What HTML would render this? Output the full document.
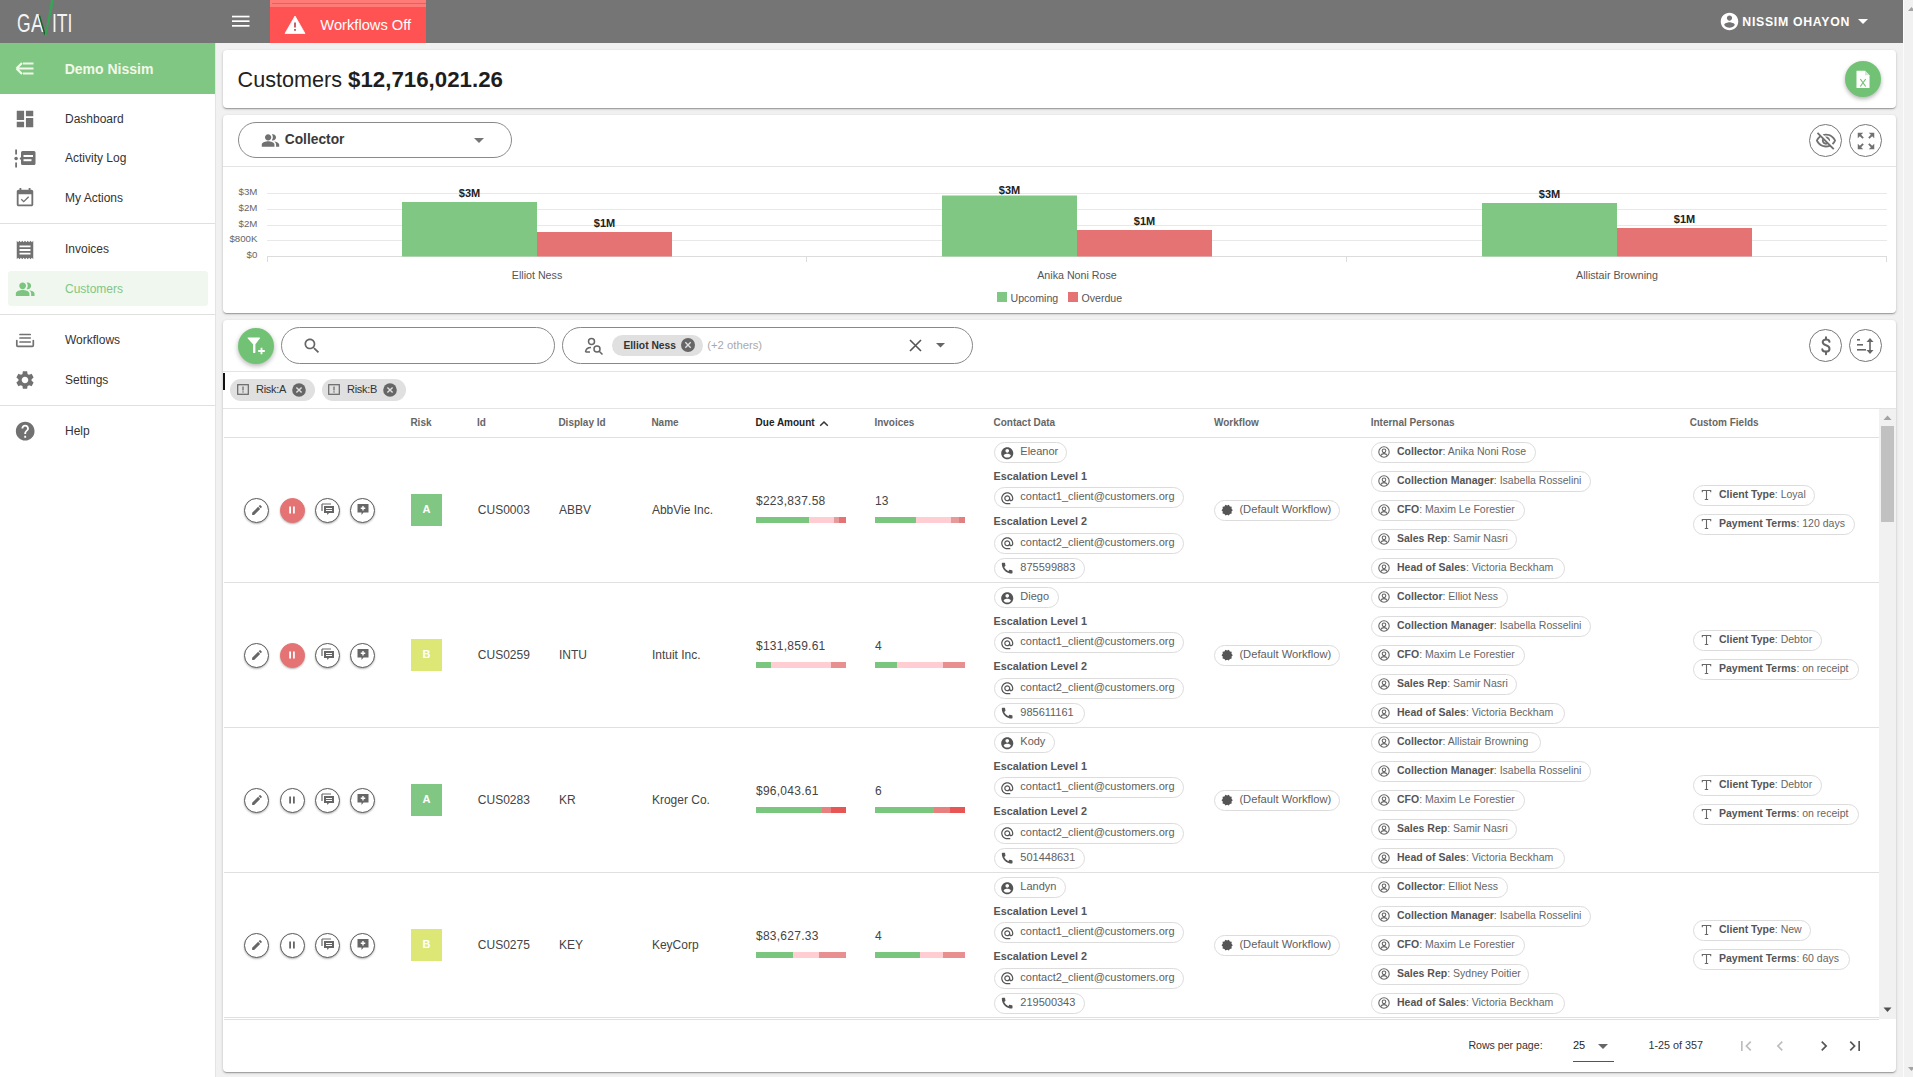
<!DOCTYPE html>
<html><head><meta charset="utf-8"><title>Customers</title>
<style>
*{box-sizing:border-box;margin:0;padding:0}
html,body{width:1913px;height:1077px;overflow:hidden;background:#f1f1f1;font-family:"Liberation Sans",Arial,sans-serif;color:#333}
.a{position:absolute}
.t{position:absolute;white-space:nowrap;line-height:1}
.card{position:absolute;left:223px;width:1673px;background:#fff;border-radius:4px;box-shadow:0 1px 3px rgba(0,0,0,.2),0 1px 1px rgba(0,0,0,.14),0 2px 1px -1px rgba(0,0,0,.12)}
.ic{fill:#717171}
.hd{position:absolute;font-size:10px;color:#666;font-weight:bold;white-space:nowrap;line-height:1}
.hl{position:absolute;left:224px;width:1655px;height:1px;background:#e0e0e0}
.rb{position:absolute;width:25px;height:25px;border-radius:50%;border:1px solid #5a5a5a;background:#fff;box-shadow:0 1px 2px rgba(0,0,0,.3)}
.rb svg{position:absolute;left:50%;top:50%;transform:translate(-50%,-50%)}
.rb.red{background:#e57373;border-color:#e57373}
.risk{position:absolute;width:31px;height:32px;color:#fff;font-weight:bold;font-size:11px;text-align:center;line-height:30px}
.bar{position:absolute;height:6px;display:flex}
.bar i{display:block;height:6px}
.chip{position:absolute;height:21px;border:1px solid #dcdcdc;border-radius:11px;background:#fff;font-size:10.5px;color:#666;white-space:nowrap;line-height:14px;padding-top:1px;padding-left:25px;overflow:hidden}
.chip svg{position:absolute;left:6px;top:3px}
.chip.c{font-size:11px;padding-left:25.3px;color:#606060}
.chip.w{font-size:11.2px;padding-left:24.4px;color:#606060}
.chip b{color:#555}
</style></head><body>
<div class="a" style="left:0;top:0;width:1903px;height:43px;background:#757575"></div>
<div class="t" style="left:17.4px;top:11px;font-size:25px;color:#f4f4f4;transform:scaleX(0.7);transform-origin:0 0">G</div>
<div class="t" style="left:30.8px;top:11px;font-size:25px;color:#f4f4f4;transform:scaleX(0.76);transform-origin:0 0">A</div>
<div class="t" style="left:52.2px;top:11px;font-size:25px;color:#f4f4f4;transform:scaleX(.7);transform-origin:0 0">ITI</div>
<svg class="a" style="left:38px;top:0" width="17" height="38" viewBox="0 0 17 38"><path d="M0.6 15.6 L2.2 15.6 L7.3 33 L6.6 36 Z" fill="#17632e"/><path d="M6.6 36 L13.2 0 L16 0 L8.2 36 Z" fill="#35a556"/></svg>
<svg class="a" style="left:232px;top:15px" width="18" height="13" viewBox="0 0 18 13"><rect x="0" y="0.7" width="17.5" height="1.7" fill="#fff"/><rect x="0" y="5.3" width="17.5" height="1.7" fill="#fff"/><rect x="0" y="10" width="17.5" height="1.7" fill="#fff"/></svg>
<div class="a" style="left:270px;top:0;width:156px;height:43px;background:#ff5252"></div>
<div class="a" style="left:270px;top:0;width:156px;height:7px;background:#ff7b78"></div>
<div class="a" style="left:272px;top:3px;width:154px;height:1px;background:#e85f5f"></div>
<svg class="a" style="left:284px;top:15px" width="22" height="19" viewBox="0 0 22 19"><path d="M11 1 L21 18.5 L1 18.5 Z" fill="#fff" stroke="#fff" stroke-width="0.8" stroke-linejoin="round"/><rect x="10.1" y="7.5" width="1.8" height="5" fill="#c85050"/><rect x="10.1" y="14" width="1.8" height="1.8" fill="#c85050"/></svg>
<div class="t" style="left:320.3px;top:17.86px;font-size:14.7px;color:#fff">Workflows Off</div>
<svg class="a" style="left:1719px;top:11px" width="21" height="21" viewBox="0 0 24 24"><path fill="#fff" d="M12 2C6.48 2 2 6.48 2 12s4.48 10 10 10 10-4.48 10-10S17.52 2 12 2zm0 3c1.66 0 3 1.34 3 3s-1.34 3-3 3-3-1.34-3-3 1.34-3 3-3zm0 14.2c-2.5 0-4.71-1.28-6-3.22.03-1.99 4-3.08 6-3.08 1.99 0 5.97 1.09 6 3.08-1.29 1.94-3.5 3.22-6 3.22z"/></svg>
<div class="t" style="left:1742.3px;top:16.29px;font-size:12.3px;color:#fff;font-weight:bold;letter-spacing:.7px">NISSIM OHAYON</div>
<svg class="a" style="left:1858px;top:19px" width="10" height="5" viewBox="0 0 10 5"><path d="M0 0 L10 0 L5 5 Z" fill="#fff"/></svg>
<div class="a" style="left:1903px;top:0;width:10px;height:1077px;background:#f1f1f1;border-left:1px solid #fbfbfb"></div>
<svg class="a" style="left:1908px;top:6.5px" width="7" height="5" viewBox="0 0 7 5"><path d="M3.5 0 L7 4 L0 4 Z" fill="#a3a3a3"/></svg>
<svg class="a" style="left:1908px;top:1067px" width="7" height="5" viewBox="0 0 7 5"><path d="M0 0 L7 0 L3.5 4 Z" fill="#a3a3a3"/></svg>
<div class="a" style="left:0;top:43px;width:216px;height:1034px;background:#fff;border-right:1px solid #e4e4e4"></div>
<div class="a" style="left:0;top:43px;width:215px;height:51px;background:#81c784"></div>
<svg class="a" style="left:15px;top:60px" width="20" height="17" viewBox="0 0 20 17"><path d="M1.5 8.5 L7 3 M1.5 8.5 L7 14 M1.5 8.5 H18.5 M8 3.5 H18.5 M8 13.5 H18.5" stroke="#f1f8e9" stroke-width="2.2" fill="none"/></svg>
<div class="t" style="left:64.7px;top:62.15px;font-size:14px;color:#f1f8e9;font-weight:bold">Demo Nissim</div>
<svg class="a" style="left:13.7px;top:107.5px" width="22" height="22" viewBox="0 0 24 24"><path fill="#717171" d="M3 13h8V3H3v10zm0 8h8v-6H3v6zm10 0h8V11h-8v10zm0-18v6h8V3h-8z"/></svg>
<div class="t" style="left:65px;top:112.84px;font-size:12px;color:#333">Dashboard</div>
<svg class="a" style="left:14px;top:149px" width="23" height="20" viewBox="0 0 23 20"><rect x="1.2" y="0.5" width="1.8" height="5" class="ic"/><circle cx="2.1" cy="9.5" r="1.8" class="ic"/><rect x="1.2" y="13.5" width="1.8" height="5" class="ic"/><path class="ic" d="M7 3.5 Q7 2 8.5 2 H20 Q21.5 2 21.5 3.5 V14.5 Q21.5 16 20 16 H8.5 Q7 16 7 14.5 V11 L5.5 9.5 L7 8 Z"/><rect x="9.5" y="6" width="9.5" height="2" fill="#fff"/><rect x="9.5" y="10.2" width="8" height="2" fill="#fff"/></svg>
<div class="t" style="left:65px;top:151.84px;font-size:12px;color:#333">Activity Log</div>
<svg class="a" style="left:13.5px;top:186.5px" width="22" height="22" viewBox="0 0 24 24"><path fill="#717171" d="M16.53 11.06L15.47 10l-4.88 4.88-2.12-2.12-1.06 1.06L10.59 17l5.94-5.94zM19 3h-1V1h-2v2H8V1H6v2H5c-1.11 0-1.99.9-1.99 2L3 19c0 1.1.89 2 2 2h14c1.1 0 2-.9 2-2V5c0-1.1-.9-2-2-2zm0 16H5V8h14v11z"/></svg>
<div class="t" style="left:65px;top:191.54px;font-size:12px;color:#333">My Actions</div>
<div class="a" style="left:0;top:223px;width:215px;height:1px;background:#e0e0e0"></div>
<svg class="a" style="left:14px;top:238.5px" width="22" height="22" viewBox="0 0 24 24"><path fill="#717171" d="M18 17H6v-2h12v2zm0-4H6v-2h12v2zm0-4H6V7h12v2zM3 22l1.5-1.5L6 22l1.5-1.5L9 22l1.5-1.5L12 22l1.5-1.5L15 22l1.5-1.5L18 22l1.5-1.5L21 22V2l-1.5 1.5L18 2l-1.5 1.5L15 2l-1.5 1.5L12 2l-1.5 1.5L9 2 7.5 3.5 6 2 4.5 3.5 3 2v20z"/></svg>
<div class="t" style="left:65px;top:243.24px;font-size:12px;color:#333">Invoices</div>
<div class="a" style="left:8px;top:271px;width:200px;height:35px;background:#eff7ef;border-radius:3px"></div>
<svg class="a" style="left:15px;top:278.8px" width="20.4" height="20.4" viewBox="0 0 24 24"><path fill="#7cc47f" d="M16.67 13.13C18.04 14.06 19 15.32 19 17v3h4v-3c0-2.18-3.57-3.47-6.33-3.87zM9 12c2.21 0 4-1.79 4-4S11.21 4 9 4 5 5.79 5 8s1.79 4 4 4zm6 0c2.21 0 4-1.79 4-4s-1.79-4-4-4c-.47 0-.91.1-1.33.24C14.5 5.27 15 6.58 15 8s-.5 2.73-1.33 3.76c.42.14.86.24 1.33.24zm-6 1c-2.67 0-8 1.34-8 4v3h16v-3c0-2.66-5.33-4-8-4z"/></svg>
<div class="t" style="left:65px;top:283.24px;font-size:12px;color:#81c784">Customers</div>
<div class="a" style="left:0;top:314px;width:215px;height:1px;background:#e0e0e0"></div>
<svg class="a" style="left:15px;top:332px" width="20" height="16" viewBox="0 0 20 16"><g stroke="#717171" stroke-width="1.7" fill="none" stroke-linecap="round"><path d="M5 2.5 H15.2 M5 6 H15.2 M5 10 H15.2"/><path d="M1.8 8.5 V13.3 Q1.8 14.3 2.8 14.3 H17.3 Q18.3 14.3 18.3 13.3 V8.5"/></g></svg>
<div class="t" style="left:65px;top:334.34px;font-size:12px;color:#333">Workflows</div>
<svg class="a" style="left:13.8px;top:368.6px" width="22" height="22" viewBox="0 0 24 24"><path fill="#717171" d="M19.14 12.94c.04-.3.06-.61.06-.94 0-.32-.02-.64-.07-.94l2.03-1.58c.18-.14.23-.41.12-.61l-1.92-3.32c-.12-.22-.37-.29-.59-.22l-2.39.96c-.5-.38-1.03-.7-1.62-.94l-.36-2.54c-.04-.24-.24-.41-.48-.41h-3.84c-.24 0-.43.17-.47.41l-.36 2.54c-.59.24-1.13.57-1.62.94l-2.39-.96c-.22-.08-.47 0-.59.22L2.74 8.87c-.12.21-.08.47.12.61l2.03 1.58c-.05.3-.09.63-.09.94s.02.64.07.94l-2.03 1.58c-.18.14-.23.41-.12.61l1.92 3.32c.12.22.37.29.59.22l2.39-.96c.5.38 1.03.7 1.62.94l.36 2.54c.05.24.24.41.48.41h3.84c.24 0 .44-.17.47-.41l.36-2.54c.59-.24 1.13-.56 1.62-.94l2.39.96c.22.08.47 0 .59-.22l1.92-3.32c.12-.22.07-.47-.12-.61l-2.01-1.58zM12 15.6c-1.98 0-3.6-1.62-3.6-3.6s1.62-3.6 3.6-3.6 3.6 1.62 3.6 3.6-1.62 3.6-3.6 3.6z"/></svg>
<div class="t" style="left:65px;top:374.34px;font-size:12px;color:#333">Settings</div>
<div class="a" style="left:0;top:405px;width:215px;height:1px;background:#e0e0e0"></div>
<svg class="a" style="left:13.8px;top:420.2px" width="22.4" height="22.4" viewBox="0 0 24 24"><path fill="#717171" d="M12 2C6.48 2 2 6.48 2 12s4.48 10 10 10 10-4.48 10-10S17.52 2 12 2zm1 17h-2v-2h2v2zm2.07-7.75l-.9.92C13.45 12.9 13 13.5 13 15h-2v-.5c0-1.1.45-2.1 1.17-2.83l1.24-1.26c.37-.36.59-.86.59-1.41 0-1.1-.9-2-2-2s-2 .9-2 2H8c0-2.21 1.79-4 4-4s4 1.79 4 4c0 .88-.36 1.68-.93 2.25z"/></svg>
<div class="t" style="left:65px;top:425.24px;font-size:12px;color:#333">Help</div>
<div class="card" style="top:50px;height:58px"></div>
<div class="t" style="left:237.6px;top:68.92px;font-size:21.6px;color:#222">Customers <b style="font-size:22.3px;color:#1e1e1e">$12,716,021.26</b></div>
<div class="a" style="left:1845px;top:61px;width:36px;height:36px;border-radius:50%;background:#72c275;box-shadow:0 2px 4px rgba(0,0,0,.3)"><svg class="a" style="left:10px;top:9px" width="16" height="19" viewBox="0 0 16 19"><path d="M1.5 0.8 H10 L14.5 5.3 V18 H1.5 Z" fill="#fff"/><path d="M10 0.8 V5.3 H14.5" fill="#cfe9cf"/><path d="M5.3 9 L10.7 16.5 M10.7 9 L5.3 16.5" stroke="#72c275" stroke-width="1.2"/></svg></div>
<div class="card" style="top:115px;height:198px"></div>
<div class="a" style="left:238px;top:122px;width:274px;height:36px;border:1px solid #8a8a8a;border-radius:18px"></div>
<svg class="a" style="left:260.5px;top:131px" width="19" height="19" viewBox="0 0 24 24"><path fill="#717171" d="M16.67 13.13C18.04 14.06 19 15.32 19 17v3h4v-3c0-2.18-3.57-3.47-6.33-3.87zM9 12c2.21 0 4-1.79 4-4S11.21 4 9 4 5 5.79 5 8s1.79 4 4 4zm6 0c2.21 0 4-1.79 4-4s-1.79-4-4-4c-.47 0-.91.1-1.33.24C14.5 5.27 15 6.58 15 8s-.5 2.73-1.33 3.76c.42.14.86.24 1.33.24zm-6 1c-2.67 0-8 1.34-8 4v3h16v-3c0-2.66-5.33-4-8-4z"/></svg>
<div class="t" style="left:284.7px;top:133.02px;font-size:13.8px;color:#3a3a3a;font-weight:bold">Collector</div>
<svg class="a" style="left:474px;top:138px" width="10" height="5" viewBox="0 0 10 5"><path d="M0 0 L10 0 L5 5 Z" fill="#757575"/></svg>
<div class="a" style="left:223px;top:166px;width:1673px;height:1px;background:#e4e4e4"></div>
<div class="a" style="left:1809px;top:124px;width:33px;height:33px;border:1px solid #777;border-radius:50%"><svg class="a" style="left:4.5px;top:4.5px" width="22" height="22" viewBox="0 0 24 24"><path fill="#717171" d="M12 6c3.79 0 7.17 2.13 8.82 5.5-.59 1.22-1.42 2.27-2.41 3.12l1.41 1.41c1.39-1.23 2.49-2.77 3.18-4.53C21.27 7.11 17 4 12 4c-1.27 0-2.49.2-3.64.57l1.65 1.65C10.66 6.09 11.32 6 12 6zm-1.07 1.14L13 9.21c.57.25 1.03.71 1.28 1.28l2.07 2.07c.08-.34.14-.7.14-1.07C16.5 9.01 14.48 7 12 7c-.37 0-.72.05-1.07.14zM2.01 3.87l2.68 2.68C3.06 7.83 1.77 9.53 1 11.5 2.73 15.89 7 19 12 19c1.52 0 2.98-.29 4.32-.82l3.42 3.42 1.41-1.41L3.42 2.45 2.01 3.87zm7.5 7.5l2.61 2.61c-.04.01-.08.02-.12.02-1.38 0-2.5-1.12-2.5-2.5 0-.05.01-.08.01-.13zm-3.4-3.4l1.75 1.75c-.23.55-.36 1.15-.36 1.78 0 2.48 2.02 4.5 4.5 4.5.63 0 1.23-.13 1.77-.36l.98.98c-.88.24-1.8.38-2.75.38-3.79 0-7.17-2.13-8.82-5.5.7-1.43 1.72-2.61 2.93-3.53z"/></svg></div>
<div class="a" style="left:1849px;top:124px;width:33px;height:33px;border:1px solid #777;border-radius:50%"><svg class="a" style="left:4.5px;top:4.5px" width="22" height="22" viewBox="0 0 24 24"><path fill="#717171" d="M15 3l2.3 2.3-2.89 2.87 1.42 1.42L18.7 6.7 21 9V3zM3 9l2.3-2.3 2.87 2.89 1.42-1.42L6.7 5.3 9 3H3zm6 12l-2.3-2.3 2.89-2.87-1.42-1.42L5.3 17.3 3 15v6zm12-6l-2.3 2.3-2.87-2.89-1.42 1.42 2.89 2.87L15 21h6z"/></svg></div>
<svg class="a" style="left:0;top:0" width="1913" height="320" viewBox="0 0 1913 320" font-family="Liberation Sans, Arial, sans-serif"><g stroke="#e8e8e8" stroke-width="1"><line x1="267" y1="193.5" x2="1887" y2="193.5"/><line x1="267" y1="209.5" x2="1887" y2="209.5"/><line x1="267" y1="225.5" x2="1887" y2="225.5"/><line x1="267" y1="240.5" x2="1887" y2="240.5"/></g><line x1="267" y1="256.5" x2="1887" y2="256.5" stroke="#dcdcdc"/><g stroke="#dcdcdc"><line x1="267.5" y1="257" x2="267.5" y2="262"/><line x1="806.5" y1="257" x2="806.5" y2="262"/><line x1="1346.5" y1="257" x2="1346.5" y2="262"/><line x1="1886.5" y1="257" x2="1886.5" y2="262"/></g><g font-size="9.7" fill="#666" text-anchor="end"><text x="257.4" y="195.4">$3M</text><text x="257.4" y="211">$2M</text><text x="257.4" y="226.7">$2M</text><text x="257.4" y="242.1">$800K</text><text x="257.4" y="257.8">$0</text></g><g fill="#81c784"><rect x="402" y="202" width="135" height="54.5"/><rect x="942" y="195.5" width="135" height="61"/><rect x="1482" y="203" width="135" height="53.5"/></g><g fill="#e57373"><rect x="537" y="232" width="135" height="24.5"/><rect x="1077" y="230" width="135" height="26.5"/><rect x="1617" y="228" width="135" height="28.5"/></g><g font-size="11" font-weight="bold" fill="#222" text-anchor="middle"><text x="469.5" y="197">$3M</text><text x="604.5" y="227">$1M</text><text x="1009.5" y="194">$3M</text><text x="1144.5" y="225">$1M</text><text x="1549.5" y="198">$3M</text><text x="1684.5" y="223">$1M</text></g><g font-size="10.7" fill="#555" text-anchor="middle"><text x="537" y="279">Elliot Ness</text><text x="1077" y="279">Anika Noni Rose</text><text x="1617" y="279">Allistair Browning</text></g><rect x="997" y="292" width="10" height="10" fill="#81c784"/><text x="1010.5" y="302" font-size="10.6" fill="#555">Upcoming</text><rect x="1068" y="292" width="10" height="10" fill="#e57373"/><text x="1081.5" y="302" font-size="10.6" fill="#555">Overdue</text></svg>
<div class="card" style="top:320px;height:752px"></div>
<div class="a" style="left:238px;top:328px;width:36px;height:36px;border-radius:50%;background:#72c275;box-shadow:0 2px 5px rgba(0,0,0,.3)">
  <svg class="a" style="left:9px;top:9px" width="20" height="20" viewBox="0 0 20 20"><path d="M0.6 1.2 Q0.3 0.4 1.2 0.4 H12.4 Q13.3 0.4 13 1.2 L8.4 7.2 V15.4 Q7.2 16.6 6 15.4 V7.2 Z" fill="#fff"/><path d="M11.2 14 H17.8 M14.5 10.7 V17.3" stroke="#fff" stroke-width="1.8"/></svg>
</div>
<div class="a" style="left:281px;top:327px;width:274px;height:37px;border:1px solid #888;border-radius:19px"></div>
<svg class="a" style="left:302px;top:336px" width="20" height="20" viewBox="0 0 24 24"><path fill="#666" d="M15.5 14h-.79l-.28-.27C15.41 12.59 16 11.11 16 9.5 16 5.91 13.09 3 9.5 3S3 5.91 3 9.5 5.91 16 9.5 16c1.61 0 3.09-.59 4.23-1.57l.27.28v.79l5 4.99L20.49 19l-4.99-5zm-6 0C7.01 14 5 11.99 5 9.5S7.01 5 9.5 5 14 7.01 14 9.5 11.99 14 9.5 14z"/></svg>
<div class="a" style="left:562px;top:327px;width:411px;height:37px;border:1px solid #888;border-radius:19px"></div>
<svg class="a" style="left:584px;top:337px" width="21" height="19" viewBox="0 0 21 19"><g stroke="#666" stroke-width="1.5" fill="none"><circle cx="7.5" cy="4.5" r="3"/><path d="M1.5 15 Q2 10.5 7 10.5"/><path d="M1.5 15 H6"/><circle cx="13" cy="12" r="3"/><path d="M15.2 14.2 L18.5 17.5"/></g></svg>
<div class="a" style="left:612px;top:335px;width:91px;height:21px;border-radius:11px;background:#e0e0e0"></div>
<div class="t" style="left:623.4px;top:340.5px;font-size:10.3px;font-weight:bold;color:#333">Elliot Ness</div>
<svg class="a" style="left:681px;top:338px" width="14" height="14" viewBox="0 0 14 14"><circle cx="7" cy="7" r="7" fill="#666"/><path d="M4.3 4.3 L9.7 9.7 M9.7 4.3 L4.3 9.7" stroke="#e0e0e0" stroke-width="1.4"/></svg>
<div class="t" style="left:707.2px;top:340px;font-size:11.3px;color:#aaa">(+2 others)</div>
<svg class="a" style="left:909px;top:339px" width="13" height="13" viewBox="0 0 13 13"><path d="M1 1 L12 12 M12 1 L1 12" stroke="#555" stroke-width="1.6"/></svg>
<svg class="a" style="left:936px;top:343px" width="9" height="5" viewBox="0 0 9 5"><path d="M0 0 L9 0 L4.5 4.5 Z" fill="#666"/></svg>
<div class="a" style="left:1809px;top:329px;width:33px;height:33px;border:1px solid #777;border-radius:50%">
  <svg class="a" style="left:10px;top:6px" width="12" height="20" viewBox="0 0 12 20"><path d="M9.5 5.8 Q9.2 3.6 6 3.6 Q2.7 3.6 2.7 6.1 Q2.7 8.3 6 9.3 Q9.5 10.3 9.5 12.9 Q9.5 15.6 6 15.6 Q2.6 15.6 2.3 13.3 M6 1.3 V3.6 M6 15.6 V18.3" stroke="#666" stroke-width="2" fill="none" stroke-linecap="round"/></svg>
</div>
<div class="a" style="left:1849px;top:329px;width:33px;height:33px;border:1px solid #777;border-radius:50%">
  <svg class="a" style="left:6px;top:8px" width="20" height="16" viewBox="0 0 20 16"><g fill="#666"><rect x="1" y="1" width="3" height="1.6"/><rect x="1" y="6" width="6" height="1.6"/><rect x="1" y="11" width="9" height="1.6"/><rect x="13.2" y="2" width="1.6" height="12"/><path d="M14 0 L17.5 4 H10.5 Z"/><path d="M14 16 L17.5 12 H10.5 Z"/></g></svg>
</div>
<div class="a" style="left:223px;top:371px;width:1673px;height:1px;background:#e4e4e4"></div>
<div class="a" style="left:223px;top:373px;width:1.5px;height:17px;background:#111"></div>
<div class="a" style="left:230px;top:379px;width:85px;height:22px;border-radius:11px;background:#e0e0e0"></div>
<svg class="a" style="left:237px;top:384px" width="12" height="11" viewBox="0 0 12 11"><rect x="0.7" y="0.7" width="10.6" height="9.6" fill="none" stroke="#666" stroke-width="1.2"/><rect x="5.4" y="2.5" width="1.2" height="4" fill="#666"/><rect x="5.4" y="7.3" width="1.2" height="1.3" fill="#666"/></svg>
<div class="t" style="left:256px;top:384px;font-size:11px;color:#333;letter-spacing:-.3px">Risk:A</div>
<svg class="a" style="left:292px;top:383px" width="14" height="14" viewBox="0 0 14 14"><circle cx="7" cy="7" r="6.8" fill="#666"/><path d="M4.4 4.4 L9.6 9.6 M9.6 4.4 L4.4 9.6" stroke="#e0e0e0" stroke-width="1.4"/></svg>
<div class="a" style="left:322px;top:379px;width:84px;height:22px;border-radius:11px;background:#e0e0e0"></div>
<svg class="a" style="left:328px;top:384px" width="12" height="11" viewBox="0 0 12 11"><rect x="0.7" y="0.7" width="10.6" height="9.6" fill="none" stroke="#666" stroke-width="1.2"/><rect x="5.4" y="2.5" width="1.2" height="4" fill="#666"/><rect x="5.4" y="7.3" width="1.2" height="1.3" fill="#666"/></svg>
<div class="t" style="left:347px;top:384px;font-size:11px;color:#333;letter-spacing:-.3px">Risk:B</div>
<svg class="a" style="left:383px;top:383px" width="14" height="14" viewBox="0 0 14 14"><circle cx="7" cy="7" r="6.8" fill="#666"/><path d="M4.4 4.4 L9.6 9.6 M9.6 4.4 L4.4 9.6" stroke="#e0e0e0" stroke-width="1.4"/></svg>
<div class="a" style="left:223px;top:408px;width:1673px;height:1px;background:#e4e4e4"></div>

<div class="hd" style="left:410.4px;top:417.94px">Risk</div>
<div class="hd" style="left:476.9px;top:417.94px">Id</div>
<div class="hd" style="left:558.4px;top:417.94px">Display Id</div>
<div class="hd" style="left:651.4px;top:417.94px">Name</div>
<div class="hd" style="left:874.4px;top:417.94px">Invoices</div>
<div class="hd" style="left:993.5px;top:417.94px">Contact Data</div>
<div class="hd" style="left:1214px;top:417.94px">Workflow</div>
<div class="hd" style="left:1370.7px;top:417.94px">Internal Personas</div>
<div class="hd" style="left:1689.7px;top:417.94px">Custom Fields</div>
<div class="hd" style="left:755.6px;top:417.94px;color:#222">Due Amount</div>
<svg class="a" style="left:818.5px;top:420.2px" width="10" height="7" viewBox="0 0 10 7"><path d="M1.2 5.8 L5 2 L8.8 5.8" stroke="#333" stroke-width="1.5" fill="none"/></svg>
<div class="hl" style="top:437px"></div>
<div class="rb" style="left:244px;top:497.5px"><svg width="13" height="13" viewBox="0 0 24 24"><path fill="#666" d="M3 17.25V21h3.75L17.81 9.94l-3.75-3.75L3 17.25zM20.71 7.04c.39-.39.39-1.02 0-1.41l-2.34-2.34c-.39-.39-1.02-.39-1.41 0l-1.83 1.83 3.75 3.75 1.83-1.83z"/></svg></div>
<div class="rb red" style="left:279.5px;top:497.5px"><svg width="10" height="10" viewBox="0 0 10 10"><rect x="2.2" y="1.5" width="1.8" height="7" fill="#fff"/><rect x="6" y="1.5" width="1.8" height="7" fill="#fff"/></svg></div>
<div class="rb" style="left:315px;top:497.5px"><svg width="14" height="14" viewBox="0 0 14 14"><path d="M1 1 H10 M1 1 V8" stroke="#666" stroke-width="1.2" fill="none"/><path fill="#666" d="M3 3 H13 V10 H8 L6.5 12 L6 10 H3 Z"/><rect x="5" y="5" width="6" height="1" fill="#fff"/><rect x="5" y="7" width="6" height="1" fill="#fff"/></svg></div>
<div class="rb" style="left:350px;top:497.5px"><svg width="14" height="14" viewBox="0 0 14 14"><path fill="#666" d="M1.5 1 H12.5 V9.5 H7.5 L5.5 12 V9.5 H1.5 Z"/><path d="M7 3 V7.5 M4.75 5.25 H9.25" stroke="#fff" stroke-width="1.4"/></svg></div>
<div class="risk" style="left:411px;top:494px;background:#81c784">A</div>
<div class="t" style="left:477.8px;top:503.84px;font-size:12px;color:#444">CUS0003</div>
<div class="t" style="left:558.9px;top:503.84px;font-size:12px;color:#444">ABBV</div>
<div class="t" style="left:651.9px;top:503.84px;font-size:12px;color:#444">AbbVie Inc.</div>
<div class="t" style="left:756px;top:494.64px;font-size:12px;color:#444;letter-spacing:.25px">$223,837.58</div>
<div class="t" style="left:875px;top:494.64px;font-size:12px;color:#444">13</div>
<div class="bar" style="left:756px;top:517px"><i style="width:53px;background:#7bc67e"></i><i style="width:25px;background:#ffcdd2"></i><i style="width:5px;background:#e79a9a"></i><i style="width:7px;background:#e57373"></i></div>
<div class="bar" style="left:875px;top:517px"><i style="width:41px;background:#7bc67e"></i><i style="width:35px;background:#ffcdd2"></i><i style="width:8px;background:#e79a9a"></i><i style="width:6px;background:#e08080"></i></div>
<div class="chip c" style="left:994px;top:442px;width:73px"><svg style="left:5px;top:2.5px" width="14.5" height="14.5" viewBox="0 0 24 24"><path fill="#555" d="M12 2C6.48 2 2 6.48 2 12s4.48 10 10 10 10-4.48 10-10S17.52 2 12 2zm0 3c1.66 0 3 1.34 3 3s-1.34 3-3 3-3-1.34-3-3 1.34-3 3-3zm0 14.2c-2.5 0-4.71-1.28-6-3.22.03-1.99 4-3.08 6-3.08 1.99 0 5.97 1.09 6 3.08-1.29 1.94-3.5 3.22-6 3.22z"/></svg>Eleanor</div>
<div class="t" style="left:993.5px;top:470.96px;font-size:10.8px;color:#555;font-weight:bold">Escalation Level 1</div>
<div class="chip c" style="left:994px;top:487px;width:190px"><svg style="left:5px;top:2.6px" width="14.5" height="14.5" viewBox="0 0 24 24"><path fill="#555" d="M12 2C6.48 2 2 6.48 2 12s4.48 10 10 10h5v-2h-5c-4.34 0-8-3.66-8-8s3.66-8 8-8 8 3.66 8 8v1.43c0 .79-.71 1.57-1.5 1.57s-1.5-.78-1.5-1.57V12c0-2.76-2.24-5-5-5s-5 2.24-5 5 2.24 5 5 5c1.38 0 2.64-.56 3.54-1.47.65.89 1.77 1.47 2.96 1.47 1.97 0 3.5-1.6 3.5-3.57V12c0-5.52-4.48-10-10-10zm0 13c-1.66 0-3-1.34-3-3s1.34-3 3-3 3 1.34 3 3-1.34 3-3 3z"/></svg>contact1_client@customers.org</div>
<div class="t" style="left:993.5px;top:515.86px;font-size:10.8px;color:#555;font-weight:bold">Escalation Level 2</div>
<div class="chip c" style="left:994px;top:532.5px;width:190px"><svg style="left:5px;top:2.6px" width="14.5" height="14.5" viewBox="0 0 24 24"><path fill="#555" d="M12 2C6.48 2 2 6.48 2 12s4.48 10 10 10h5v-2h-5c-4.34 0-8-3.66-8-8s3.66-8 8-8 8 3.66 8 8v1.43c0 .79-.71 1.57-1.5 1.57s-1.5-.78-1.5-1.57V12c0-2.76-2.24-5-5-5s-5 2.24-5 5 2.24 5 5 5c1.38 0 2.64-.56 3.54-1.47.65.89 1.77 1.47 2.96 1.47 1.97 0 3.5-1.6 3.5-3.57V12c0-5.52-4.48-10-10-10zm0 13c-1.66 0-3-1.34-3-3s1.34-3 3-3 3 1.34 3 3-1.34 3-3 3z"/></svg>contact2_client@customers.org</div>
<div class="chip c" style="left:994px;top:557.5px;width:91px"><svg style="left:5px;top:2.5px" width="14.3" height="14.3" viewBox="0 0 24 24"><path fill="#555" d="M20.01 15.38c-1.23 0-2.42-.2-3.53-.56-.35-.12-.74-.03-1.01.24l-1.57 1.97c-2.83-1.35-5.48-3.9-6.89-6.83l1.95-1.66c.27-.28.35-.67.24-1.02-.37-1.11-.56-2.3-.56-3.53 0-.54-.45-.99-.99-.99H4.19C3.65 3 3 3.24 3 3.99 3 13.28 10.73 21 20.01 21c.71 0 .99-.63.99-1.18v-3.45c0-.54-.45-.99-.99-.99z"/></svg>875599883</div>
<div class="chip w" style="left:1214px;top:499.5px;width:126px"><svg style="left:6px;top:3px" width="12.3" height="12.3" viewBox="0 0 24 24"><path fill="#555" d="M23 12l-2.44-2.78.34-3.68-3.61-.82-1.89-3.18L12 3 8.6 1.54 6.71 4.72l-3.61.81.34 3.68L1 12l2.44 2.78-.34 3.69 3.61.82 1.89 3.18L12 21l3.4 1.46 1.89-3.18 3.61-.82-.34-3.68L23 12z"/></svg>(Default Workflow)</div>
<div class="chip" style="left:1371px;top:442.3px;width:165px"><svg width="12" height="12" viewBox="0 0 12 12"><g fill="none" stroke="#666" stroke-width="1.1"><circle cx="6" cy="6" r="5.2"/><circle cx="6" cy="4.8" r="1.8"/><path d="M2.8 9.6 Q3.6 7.6 6 7.6 Q8.4 7.6 9.2 9.6"/></g></svg><b>Collector</b>: Anika Noni Rose</div>
<div class="chip" style="left:1371px;top:471.1px;width:220px"><svg width="12" height="12" viewBox="0 0 12 12"><g fill="none" stroke="#666" stroke-width="1.1"><circle cx="6" cy="6" r="5.2"/><circle cx="6" cy="4.8" r="1.8"/><path d="M2.8 9.6 Q3.6 7.6 6 7.6 Q8.4 7.6 9.2 9.6"/></g></svg><b>Collection Manager</b>: Isabella Rosselini</div>
<div class="chip" style="left:1371px;top:499.9px;width:154px"><svg width="12" height="12" viewBox="0 0 12 12"><g fill="none" stroke="#666" stroke-width="1.1"><circle cx="6" cy="6" r="5.2"/><circle cx="6" cy="4.8" r="1.8"/><path d="M2.8 9.6 Q3.6 7.6 6 7.6 Q8.4 7.6 9.2 9.6"/></g></svg><b>CFO</b>: Maxim Le Forestier</div>
<div class="chip" style="left:1371px;top:528.7px;width:146px"><svg width="12" height="12" viewBox="0 0 12 12"><g fill="none" stroke="#666" stroke-width="1.1"><circle cx="6" cy="6" r="5.2"/><circle cx="6" cy="4.8" r="1.8"/><path d="M2.8 9.6 Q3.6 7.6 6 7.6 Q8.4 7.6 9.2 9.6"/></g></svg><b>Sales Rep</b>: Samir Nasri</div>
<div class="chip" style="left:1371px;top:557.5px;width:194px"><svg width="12" height="12" viewBox="0 0 12 12"><g fill="none" stroke="#666" stroke-width="1.1"><circle cx="6" cy="6" r="5.2"/><circle cx="6" cy="4.8" r="1.8"/><path d="M2.8 9.6 Q3.6 7.6 6 7.6 Q8.4 7.6 9.2 9.6"/></g></svg><b>Head of Sales</b>: Victoria Beckham</div>
<div class="chip" style="left:1693px;top:485.4px;width:122px"><svg style="left:7px;top:3px" width="11" height="12" viewBox="0 0 11 12"><path d="M1.3 3.3 V1.5 H9.7 V3.3 M5.5 1.5 V10.5 M3.8 10.5 H7.2" fill="none" stroke="#666" stroke-width="1.1"/></svg><b>Client Type</b>: Loyal</div>
<div class="chip" style="left:1693px;top:513.9px;width:162px"><svg style="left:7px;top:3px" width="11" height="12" viewBox="0 0 11 12"><path d="M1.3 3.3 V1.5 H9.7 V3.3 M5.5 1.5 V10.5 M3.8 10.5 H7.2" fill="none" stroke="#666" stroke-width="1.1"/></svg><b>Payment Terms</b>: 120 days</div>
<div class="hl" style="top:582px"></div>
<div class="rb" style="left:244px;top:642.5px"><svg width="13" height="13" viewBox="0 0 24 24"><path fill="#666" d="M3 17.25V21h3.75L17.81 9.94l-3.75-3.75L3 17.25zM20.71 7.04c.39-.39.39-1.02 0-1.41l-2.34-2.34c-.39-.39-1.02-.39-1.41 0l-1.83 1.83 3.75 3.75 1.83-1.83z"/></svg></div>
<div class="rb red" style="left:279.5px;top:642.5px"><svg width="10" height="10" viewBox="0 0 10 10"><rect x="2.2" y="1.5" width="1.8" height="7" fill="#fff"/><rect x="6" y="1.5" width="1.8" height="7" fill="#fff"/></svg></div>
<div class="rb" style="left:315px;top:642.5px"><svg width="14" height="14" viewBox="0 0 14 14"><path d="M1 1 H10 M1 1 V8" stroke="#666" stroke-width="1.2" fill="none"/><path fill="#666" d="M3 3 H13 V10 H8 L6.5 12 L6 10 H3 Z"/><rect x="5" y="5" width="6" height="1" fill="#fff"/><rect x="5" y="7" width="6" height="1" fill="#fff"/></svg></div>
<div class="rb" style="left:350px;top:642.5px"><svg width="14" height="14" viewBox="0 0 14 14"><path fill="#666" d="M1.5 1 H12.5 V9.5 H7.5 L5.5 12 V9.5 H1.5 Z"/><path d="M7 3 V7.5 M4.75 5.25 H9.25" stroke="#fff" stroke-width="1.4"/></svg></div>
<div class="risk" style="left:411px;top:639px;background:#dce775">B</div>
<div class="t" style="left:477.8px;top:648.84px;font-size:12px;color:#444">CUS0259</div>
<div class="t" style="left:558.9px;top:648.84px;font-size:12px;color:#444">INTU</div>
<div class="t" style="left:651.9px;top:648.84px;font-size:12px;color:#444">Intuit Inc.</div>
<div class="t" style="left:756px;top:639.64px;font-size:12px;color:#444;letter-spacing:.25px">$131,859.61</div>
<div class="t" style="left:875px;top:639.64px;font-size:12px;color:#444">4</div>
<div class="bar" style="left:756px;top:662px"><i style="width:15px;background:#7bc67e"></i><i style="width:60px;background:#ffcdd2"></i><i style="width:15px;background:#e89090"></i></div>
<div class="bar" style="left:875px;top:662px"><i style="width:22px;background:#7bc67e"></i><i style="width:46px;background:#ffcdd2"></i><i style="width:22px;background:#e89090"></i></div>
<div class="chip c" style="left:994px;top:587px;width:65px"><svg style="left:5px;top:2.5px" width="14.5" height="14.5" viewBox="0 0 24 24"><path fill="#555" d="M12 2C6.48 2 2 6.48 2 12s4.48 10 10 10 10-4.48 10-10S17.52 2 12 2zm0 3c1.66 0 3 1.34 3 3s-1.34 3-3 3-3-1.34-3-3 1.34-3 3-3zm0 14.2c-2.5 0-4.71-1.28-6-3.22.03-1.99 4-3.08 6-3.08 1.99 0 5.97 1.09 6 3.08-1.29 1.94-3.5 3.22-6 3.22z"/></svg>Diego</div>
<div class="t" style="left:993.5px;top:615.96px;font-size:10.8px;color:#555;font-weight:bold">Escalation Level 1</div>
<div class="chip c" style="left:994px;top:632px;width:190px"><svg style="left:5px;top:2.6px" width="14.5" height="14.5" viewBox="0 0 24 24"><path fill="#555" d="M12 2C6.48 2 2 6.48 2 12s4.48 10 10 10h5v-2h-5c-4.34 0-8-3.66-8-8s3.66-8 8-8 8 3.66 8 8v1.43c0 .79-.71 1.57-1.5 1.57s-1.5-.78-1.5-1.57V12c0-2.76-2.24-5-5-5s-5 2.24-5 5 2.24 5 5 5c1.38 0 2.64-.56 3.54-1.47.65.89 1.77 1.47 2.96 1.47 1.97 0 3.5-1.6 3.5-3.57V12c0-5.52-4.48-10-10-10zm0 13c-1.66 0-3-1.34-3-3s1.34-3 3-3 3 1.34 3 3-1.34 3-3 3z"/></svg>contact1_client@customers.org</div>
<div class="t" style="left:993.5px;top:660.86px;font-size:10.8px;color:#555;font-weight:bold">Escalation Level 2</div>
<div class="chip c" style="left:994px;top:677.5px;width:190px"><svg style="left:5px;top:2.6px" width="14.5" height="14.5" viewBox="0 0 24 24"><path fill="#555" d="M12 2C6.48 2 2 6.48 2 12s4.48 10 10 10h5v-2h-5c-4.34 0-8-3.66-8-8s3.66-8 8-8 8 3.66 8 8v1.43c0 .79-.71 1.57-1.5 1.57s-1.5-.78-1.5-1.57V12c0-2.76-2.24-5-5-5s-5 2.24-5 5 2.24 5 5 5c1.38 0 2.64-.56 3.54-1.47.65.89 1.77 1.47 2.96 1.47 1.97 0 3.5-1.6 3.5-3.57V12c0-5.52-4.48-10-10-10zm0 13c-1.66 0-3-1.34-3-3s1.34-3 3-3 3 1.34 3 3-1.34 3-3 3z"/></svg>contact2_client@customers.org</div>
<div class="chip c" style="left:994px;top:702.5px;width:91px"><svg style="left:5px;top:2.5px" width="14.3" height="14.3" viewBox="0 0 24 24"><path fill="#555" d="M20.01 15.38c-1.23 0-2.42-.2-3.53-.56-.35-.12-.74-.03-1.01.24l-1.57 1.97c-2.83-1.35-5.48-3.9-6.89-6.83l1.95-1.66c.27-.28.35-.67.24-1.02-.37-1.11-.56-2.3-.56-3.53 0-.54-.45-.99-.99-.99H4.19C3.65 3 3 3.24 3 3.99 3 13.28 10.73 21 20.01 21c.71 0 .99-.63.99-1.18v-3.45c0-.54-.45-.99-.99-.99z"/></svg>985611161</div>
<div class="chip w" style="left:1214px;top:644.5px;width:126px"><svg style="left:6px;top:3px" width="12.3" height="12.3" viewBox="0 0 24 24"><path fill="#555" d="M23 12l-2.44-2.78.34-3.68-3.61-.82-1.89-3.18L12 3 8.6 1.54 6.71 4.72l-3.61.81.34 3.68L1 12l2.44 2.78-.34 3.69 3.61.82 1.89 3.18L12 21l3.4 1.46 1.89-3.18 3.61-.82-.34-3.68L23 12z"/></svg>(Default Workflow)</div>
<div class="chip" style="left:1371px;top:587.3px;width:137px"><svg width="12" height="12" viewBox="0 0 12 12"><g fill="none" stroke="#666" stroke-width="1.1"><circle cx="6" cy="6" r="5.2"/><circle cx="6" cy="4.8" r="1.8"/><path d="M2.8 9.6 Q3.6 7.6 6 7.6 Q8.4 7.6 9.2 9.6"/></g></svg><b>Collector</b>: Elliot Ness</div>
<div class="chip" style="left:1371px;top:616.1px;width:220px"><svg width="12" height="12" viewBox="0 0 12 12"><g fill="none" stroke="#666" stroke-width="1.1"><circle cx="6" cy="6" r="5.2"/><circle cx="6" cy="4.8" r="1.8"/><path d="M2.8 9.6 Q3.6 7.6 6 7.6 Q8.4 7.6 9.2 9.6"/></g></svg><b>Collection Manager</b>: Isabella Rosselini</div>
<div class="chip" style="left:1371px;top:644.9px;width:154px"><svg width="12" height="12" viewBox="0 0 12 12"><g fill="none" stroke="#666" stroke-width="1.1"><circle cx="6" cy="6" r="5.2"/><circle cx="6" cy="4.8" r="1.8"/><path d="M2.8 9.6 Q3.6 7.6 6 7.6 Q8.4 7.6 9.2 9.6"/></g></svg><b>CFO</b>: Maxim Le Forestier</div>
<div class="chip" style="left:1371px;top:673.7px;width:146px"><svg width="12" height="12" viewBox="0 0 12 12"><g fill="none" stroke="#666" stroke-width="1.1"><circle cx="6" cy="6" r="5.2"/><circle cx="6" cy="4.8" r="1.8"/><path d="M2.8 9.6 Q3.6 7.6 6 7.6 Q8.4 7.6 9.2 9.6"/></g></svg><b>Sales Rep</b>: Samir Nasri</div>
<div class="chip" style="left:1371px;top:702.5px;width:194px"><svg width="12" height="12" viewBox="0 0 12 12"><g fill="none" stroke="#666" stroke-width="1.1"><circle cx="6" cy="6" r="5.2"/><circle cx="6" cy="4.8" r="1.8"/><path d="M2.8 9.6 Q3.6 7.6 6 7.6 Q8.4 7.6 9.2 9.6"/></g></svg><b>Head of Sales</b>: Victoria Beckham</div>
<div class="chip" style="left:1693px;top:630.4px;width:129px"><svg style="left:7px;top:3px" width="11" height="12" viewBox="0 0 11 12"><path d="M1.3 3.3 V1.5 H9.7 V3.3 M5.5 1.5 V10.5 M3.8 10.5 H7.2" fill="none" stroke="#666" stroke-width="1.1"/></svg><b>Client Type</b>: Debtor</div>
<div class="chip" style="left:1693px;top:658.9px;width:166px"><svg style="left:7px;top:3px" width="11" height="12" viewBox="0 0 11 12"><path d="M1.3 3.3 V1.5 H9.7 V3.3 M5.5 1.5 V10.5 M3.8 10.5 H7.2" fill="none" stroke="#666" stroke-width="1.1"/></svg><b>Payment Terms</b>: on receipt</div>
<div class="hl" style="top:727px"></div>
<div class="rb" style="left:244px;top:787.5px"><svg width="13" height="13" viewBox="0 0 24 24"><path fill="#666" d="M3 17.25V21h3.75L17.81 9.94l-3.75-3.75L3 17.25zM20.71 7.04c.39-.39.39-1.02 0-1.41l-2.34-2.34c-.39-.39-1.02-.39-1.41 0l-1.83 1.83 3.75 3.75 1.83-1.83z"/></svg></div>
<div class="rb" style="left:279.5px;top:787.5px"><svg width="10" height="10" viewBox="0 0 10 10"><rect x="2.2" y="1.5" width="1.8" height="7" fill="#666"/><rect x="6" y="1.5" width="1.8" height="7" fill="#666"/></svg></div>
<div class="rb" style="left:315px;top:787.5px"><svg width="14" height="14" viewBox="0 0 14 14"><path d="M1 1 H10 M1 1 V8" stroke="#666" stroke-width="1.2" fill="none"/><path fill="#666" d="M3 3 H13 V10 H8 L6.5 12 L6 10 H3 Z"/><rect x="5" y="5" width="6" height="1" fill="#fff"/><rect x="5" y="7" width="6" height="1" fill="#fff"/></svg></div>
<div class="rb" style="left:350px;top:787.5px"><svg width="14" height="14" viewBox="0 0 14 14"><path fill="#666" d="M1.5 1 H12.5 V9.5 H7.5 L5.5 12 V9.5 H1.5 Z"/><path d="M7 3 V7.5 M4.75 5.25 H9.25" stroke="#fff" stroke-width="1.4"/></svg></div>
<div class="risk" style="left:411px;top:784px;background:#81c784">A</div>
<div class="t" style="left:477.8px;top:793.84px;font-size:12px;color:#444">CUS0283</div>
<div class="t" style="left:558.9px;top:793.84px;font-size:12px;color:#444">KR</div>
<div class="t" style="left:651.9px;top:793.84px;font-size:12px;color:#444">Kroger Co.</div>
<div class="t" style="left:756px;top:784.64px;font-size:12px;color:#444;letter-spacing:.25px">$96,043.61</div>
<div class="t" style="left:875px;top:784.64px;font-size:12px;color:#444">6</div>
<div class="bar" style="left:756px;top:807px"><i style="width:66px;background:#7bc67e"></i><i style="width:9px;background:#e88080"></i><i style="width:15px;background:#e85555"></i></div>
<div class="bar" style="left:875px;top:807px"><i style="width:59px;background:#7bc67e"></i><i style="width:16px;background:#e88080"></i><i style="width:15px;background:#e85555"></i></div>
<div class="chip c" style="left:994px;top:732px;width:61px"><svg style="left:5px;top:2.5px" width="14.5" height="14.5" viewBox="0 0 24 24"><path fill="#555" d="M12 2C6.48 2 2 6.48 2 12s4.48 10 10 10 10-4.48 10-10S17.52 2 12 2zm0 3c1.66 0 3 1.34 3 3s-1.34 3-3 3-3-1.34-3-3 1.34-3 3-3zm0 14.2c-2.5 0-4.71-1.28-6-3.22.03-1.99 4-3.08 6-3.08 1.99 0 5.97 1.09 6 3.08-1.29 1.94-3.5 3.22-6 3.22z"/></svg>Kody</div>
<div class="t" style="left:993.5px;top:760.96px;font-size:10.8px;color:#555;font-weight:bold">Escalation Level 1</div>
<div class="chip c" style="left:994px;top:777px;width:190px"><svg style="left:5px;top:2.6px" width="14.5" height="14.5" viewBox="0 0 24 24"><path fill="#555" d="M12 2C6.48 2 2 6.48 2 12s4.48 10 10 10h5v-2h-5c-4.34 0-8-3.66-8-8s3.66-8 8-8 8 3.66 8 8v1.43c0 .79-.71 1.57-1.5 1.57s-1.5-.78-1.5-1.57V12c0-2.76-2.24-5-5-5s-5 2.24-5 5 2.24 5 5 5c1.38 0 2.64-.56 3.54-1.47.65.89 1.77 1.47 2.96 1.47 1.97 0 3.5-1.6 3.5-3.57V12c0-5.52-4.48-10-10-10zm0 13c-1.66 0-3-1.34-3-3s1.34-3 3-3 3 1.34 3 3-1.34 3-3 3z"/></svg>contact1_client@customers.org</div>
<div class="t" style="left:993.5px;top:805.86px;font-size:10.8px;color:#555;font-weight:bold">Escalation Level 2</div>
<div class="chip c" style="left:994px;top:822.5px;width:190px"><svg style="left:5px;top:2.6px" width="14.5" height="14.5" viewBox="0 0 24 24"><path fill="#555" d="M12 2C6.48 2 2 6.48 2 12s4.48 10 10 10h5v-2h-5c-4.34 0-8-3.66-8-8s3.66-8 8-8 8 3.66 8 8v1.43c0 .79-.71 1.57-1.5 1.57s-1.5-.78-1.5-1.57V12c0-2.76-2.24-5-5-5s-5 2.24-5 5 2.24 5 5 5c1.38 0 2.64-.56 3.54-1.47.65.89 1.77 1.47 2.96 1.47 1.97 0 3.5-1.6 3.5-3.57V12c0-5.52-4.48-10-10-10zm0 13c-1.66 0-3-1.34-3-3s1.34-3 3-3 3 1.34 3 3-1.34 3-3 3z"/></svg>contact2_client@customers.org</div>
<div class="chip c" style="left:994px;top:847.5px;width:91px"><svg style="left:5px;top:2.5px" width="14.3" height="14.3" viewBox="0 0 24 24"><path fill="#555" d="M20.01 15.38c-1.23 0-2.42-.2-3.53-.56-.35-.12-.74-.03-1.01.24l-1.57 1.97c-2.83-1.35-5.48-3.9-6.89-6.83l1.95-1.66c.27-.28.35-.67.24-1.02-.37-1.11-.56-2.3-.56-3.53 0-.54-.45-.99-.99-.99H4.19C3.65 3 3 3.24 3 3.99 3 13.28 10.73 21 20.01 21c.71 0 .99-.63.99-1.18v-3.45c0-.54-.45-.99-.99-.99z"/></svg>501448631</div>
<div class="chip w" style="left:1214px;top:789.5px;width:126px"><svg style="left:6px;top:3px" width="12.3" height="12.3" viewBox="0 0 24 24"><path fill="#555" d="M23 12l-2.44-2.78.34-3.68-3.61-.82-1.89-3.18L12 3 8.6 1.54 6.71 4.72l-3.61.81.34 3.68L1 12l2.44 2.78-.34 3.69 3.61.82 1.89 3.18L12 21l3.4 1.46 1.89-3.18 3.61-.82-.34-3.68L23 12z"/></svg>(Default Workflow)</div>
<div class="chip" style="left:1371px;top:732.3px;width:170px"><svg width="12" height="12" viewBox="0 0 12 12"><g fill="none" stroke="#666" stroke-width="1.1"><circle cx="6" cy="6" r="5.2"/><circle cx="6" cy="4.8" r="1.8"/><path d="M2.8 9.6 Q3.6 7.6 6 7.6 Q8.4 7.6 9.2 9.6"/></g></svg><b>Collector</b>: Allistair Browning</div>
<div class="chip" style="left:1371px;top:761.1px;width:220px"><svg width="12" height="12" viewBox="0 0 12 12"><g fill="none" stroke="#666" stroke-width="1.1"><circle cx="6" cy="6" r="5.2"/><circle cx="6" cy="4.8" r="1.8"/><path d="M2.8 9.6 Q3.6 7.6 6 7.6 Q8.4 7.6 9.2 9.6"/></g></svg><b>Collection Manager</b>: Isabella Rosselini</div>
<div class="chip" style="left:1371px;top:789.9px;width:154px"><svg width="12" height="12" viewBox="0 0 12 12"><g fill="none" stroke="#666" stroke-width="1.1"><circle cx="6" cy="6" r="5.2"/><circle cx="6" cy="4.8" r="1.8"/><path d="M2.8 9.6 Q3.6 7.6 6 7.6 Q8.4 7.6 9.2 9.6"/></g></svg><b>CFO</b>: Maxim Le Forestier</div>
<div class="chip" style="left:1371px;top:818.7px;width:146px"><svg width="12" height="12" viewBox="0 0 12 12"><g fill="none" stroke="#666" stroke-width="1.1"><circle cx="6" cy="6" r="5.2"/><circle cx="6" cy="4.8" r="1.8"/><path d="M2.8 9.6 Q3.6 7.6 6 7.6 Q8.4 7.6 9.2 9.6"/></g></svg><b>Sales Rep</b>: Samir Nasri</div>
<div class="chip" style="left:1371px;top:847.5px;width:194px"><svg width="12" height="12" viewBox="0 0 12 12"><g fill="none" stroke="#666" stroke-width="1.1"><circle cx="6" cy="6" r="5.2"/><circle cx="6" cy="4.8" r="1.8"/><path d="M2.8 9.6 Q3.6 7.6 6 7.6 Q8.4 7.6 9.2 9.6"/></g></svg><b>Head of Sales</b>: Victoria Beckham</div>
<div class="chip" style="left:1693px;top:775.4px;width:129px"><svg style="left:7px;top:3px" width="11" height="12" viewBox="0 0 11 12"><path d="M1.3 3.3 V1.5 H9.7 V3.3 M5.5 1.5 V10.5 M3.8 10.5 H7.2" fill="none" stroke="#666" stroke-width="1.1"/></svg><b>Client Type</b>: Debtor</div>
<div class="chip" style="left:1693px;top:803.9px;width:166px"><svg style="left:7px;top:3px" width="11" height="12" viewBox="0 0 11 12"><path d="M1.3 3.3 V1.5 H9.7 V3.3 M5.5 1.5 V10.5 M3.8 10.5 H7.2" fill="none" stroke="#666" stroke-width="1.1"/></svg><b>Payment Terms</b>: on receipt</div>
<div class="hl" style="top:872px"></div>
<div class="rb" style="left:244px;top:932.5px"><svg width="13" height="13" viewBox="0 0 24 24"><path fill="#666" d="M3 17.25V21h3.75L17.81 9.94l-3.75-3.75L3 17.25zM20.71 7.04c.39-.39.39-1.02 0-1.41l-2.34-2.34c-.39-.39-1.02-.39-1.41 0l-1.83 1.83 3.75 3.75 1.83-1.83z"/></svg></div>
<div class="rb" style="left:279.5px;top:932.5px"><svg width="10" height="10" viewBox="0 0 10 10"><rect x="2.2" y="1.5" width="1.8" height="7" fill="#666"/><rect x="6" y="1.5" width="1.8" height="7" fill="#666"/></svg></div>
<div class="rb" style="left:315px;top:932.5px"><svg width="14" height="14" viewBox="0 0 14 14"><path d="M1 1 H10 M1 1 V8" stroke="#666" stroke-width="1.2" fill="none"/><path fill="#666" d="M3 3 H13 V10 H8 L6.5 12 L6 10 H3 Z"/><rect x="5" y="5" width="6" height="1" fill="#fff"/><rect x="5" y="7" width="6" height="1" fill="#fff"/></svg></div>
<div class="rb" style="left:350px;top:932.5px"><svg width="14" height="14" viewBox="0 0 14 14"><path fill="#666" d="M1.5 1 H12.5 V9.5 H7.5 L5.5 12 V9.5 H1.5 Z"/><path d="M7 3 V7.5 M4.75 5.25 H9.25" stroke="#fff" stroke-width="1.4"/></svg></div>
<div class="risk" style="left:411px;top:929px;background:#dce775">B</div>
<div class="t" style="left:477.8px;top:938.84px;font-size:12px;color:#444">CUS0275</div>
<div class="t" style="left:558.9px;top:938.84px;font-size:12px;color:#444">KEY</div>
<div class="t" style="left:651.9px;top:938.84px;font-size:12px;color:#444">KeyCorp</div>
<div class="t" style="left:756px;top:929.64px;font-size:12px;color:#444;letter-spacing:.25px">$83,627.33</div>
<div class="t" style="left:875px;top:929.64px;font-size:12px;color:#444">4</div>
<div class="bar" style="left:756px;top:952px"><i style="width:37px;background:#7bc67e"></i><i style="width:26px;background:#ffcdd2"></i><i style="width:27px;background:#e89090"></i></div>
<div class="bar" style="left:875px;top:952px"><i style="width:45px;background:#7bc67e"></i><i style="width:23px;background:#ffcdd2"></i><i style="width:22px;background:#e89090"></i></div>
<div class="chip c" style="left:994px;top:877px;width:72px"><svg style="left:5px;top:2.5px" width="14.5" height="14.5" viewBox="0 0 24 24"><path fill="#555" d="M12 2C6.48 2 2 6.48 2 12s4.48 10 10 10 10-4.48 10-10S17.52 2 12 2zm0 3c1.66 0 3 1.34 3 3s-1.34 3-3 3-3-1.34-3-3 1.34-3 3-3zm0 14.2c-2.5 0-4.71-1.28-6-3.22.03-1.99 4-3.08 6-3.08 1.99 0 5.97 1.09 6 3.08-1.29 1.94-3.5 3.22-6 3.22z"/></svg>Landyn</div>
<div class="t" style="left:993.5px;top:905.96px;font-size:10.8px;color:#555;font-weight:bold">Escalation Level 1</div>
<div class="chip c" style="left:994px;top:922px;width:190px"><svg style="left:5px;top:2.6px" width="14.5" height="14.5" viewBox="0 0 24 24"><path fill="#555" d="M12 2C6.48 2 2 6.48 2 12s4.48 10 10 10h5v-2h-5c-4.34 0-8-3.66-8-8s3.66-8 8-8 8 3.66 8 8v1.43c0 .79-.71 1.57-1.5 1.57s-1.5-.78-1.5-1.57V12c0-2.76-2.24-5-5-5s-5 2.24-5 5 2.24 5 5 5c1.38 0 2.64-.56 3.54-1.47.65.89 1.77 1.47 2.96 1.47 1.97 0 3.5-1.6 3.5-3.57V12c0-5.52-4.48-10-10-10zm0 13c-1.66 0-3-1.34-3-3s1.34-3 3-3 3 1.34 3 3-1.34 3-3 3z"/></svg>contact1_client@customers.org</div>
<div class="t" style="left:993.5px;top:950.86px;font-size:10.8px;color:#555;font-weight:bold">Escalation Level 2</div>
<div class="chip c" style="left:994px;top:967.5px;width:190px"><svg style="left:5px;top:2.6px" width="14.5" height="14.5" viewBox="0 0 24 24"><path fill="#555" d="M12 2C6.48 2 2 6.48 2 12s4.48 10 10 10h5v-2h-5c-4.34 0-8-3.66-8-8s3.66-8 8-8 8 3.66 8 8v1.43c0 .79-.71 1.57-1.5 1.57s-1.5-.78-1.5-1.57V12c0-2.76-2.24-5-5-5s-5 2.24-5 5 2.24 5 5 5c1.38 0 2.64-.56 3.54-1.47.65.89 1.77 1.47 2.96 1.47 1.97 0 3.5-1.6 3.5-3.57V12c0-5.52-4.48-10-10-10zm0 13c-1.66 0-3-1.34-3-3s1.34-3 3-3 3 1.34 3 3-1.34 3-3 3z"/></svg>contact2_client@customers.org</div>
<div class="chip c" style="left:994px;top:992.5px;width:91px"><svg style="left:5px;top:2.5px" width="14.3" height="14.3" viewBox="0 0 24 24"><path fill="#555" d="M20.01 15.38c-1.23 0-2.42-.2-3.53-.56-.35-.12-.74-.03-1.01.24l-1.57 1.97c-2.83-1.35-5.48-3.9-6.89-6.83l1.95-1.66c.27-.28.35-.67.24-1.02-.37-1.11-.56-2.3-.56-3.53 0-.54-.45-.99-.99-.99H4.19C3.65 3 3 3.24 3 3.99 3 13.28 10.73 21 20.01 21c.71 0 .99-.63.99-1.18v-3.45c0-.54-.45-.99-.99-.99z"/></svg>219500343</div>
<div class="chip w" style="left:1214px;top:934.5px;width:126px"><svg style="left:6px;top:3px" width="12.3" height="12.3" viewBox="0 0 24 24"><path fill="#555" d="M23 12l-2.44-2.78.34-3.68-3.61-.82-1.89-3.18L12 3 8.6 1.54 6.71 4.72l-3.61.81.34 3.68L1 12l2.44 2.78-.34 3.69 3.61.82 1.89 3.18L12 21l3.4 1.46 1.89-3.18 3.61-.82-.34-3.68L23 12z"/></svg>(Default Workflow)</div>
<div class="chip" style="left:1371px;top:877.3px;width:137px"><svg width="12" height="12" viewBox="0 0 12 12"><g fill="none" stroke="#666" stroke-width="1.1"><circle cx="6" cy="6" r="5.2"/><circle cx="6" cy="4.8" r="1.8"/><path d="M2.8 9.6 Q3.6 7.6 6 7.6 Q8.4 7.6 9.2 9.6"/></g></svg><b>Collector</b>: Elliot Ness</div>
<div class="chip" style="left:1371px;top:906.1px;width:220px"><svg width="12" height="12" viewBox="0 0 12 12"><g fill="none" stroke="#666" stroke-width="1.1"><circle cx="6" cy="6" r="5.2"/><circle cx="6" cy="4.8" r="1.8"/><path d="M2.8 9.6 Q3.6 7.6 6 7.6 Q8.4 7.6 9.2 9.6"/></g></svg><b>Collection Manager</b>: Isabella Rosselini</div>
<div class="chip" style="left:1371px;top:934.9px;width:154px"><svg width="12" height="12" viewBox="0 0 12 12"><g fill="none" stroke="#666" stroke-width="1.1"><circle cx="6" cy="6" r="5.2"/><circle cx="6" cy="4.8" r="1.8"/><path d="M2.8 9.6 Q3.6 7.6 6 7.6 Q8.4 7.6 9.2 9.6"/></g></svg><b>CFO</b>: Maxim Le Forestier</div>
<div class="chip" style="left:1371px;top:963.7px;width:158px"><svg width="12" height="12" viewBox="0 0 12 12"><g fill="none" stroke="#666" stroke-width="1.1"><circle cx="6" cy="6" r="5.2"/><circle cx="6" cy="4.8" r="1.8"/><path d="M2.8 9.6 Q3.6 7.6 6 7.6 Q8.4 7.6 9.2 9.6"/></g></svg><b>Sales Rep</b>: Sydney Poitier</div>
<div class="chip" style="left:1371px;top:992.5px;width:194px"><svg width="12" height="12" viewBox="0 0 12 12"><g fill="none" stroke="#666" stroke-width="1.1"><circle cx="6" cy="6" r="5.2"/><circle cx="6" cy="4.8" r="1.8"/><path d="M2.8 9.6 Q3.6 7.6 6 7.6 Q8.4 7.6 9.2 9.6"/></g></svg><b>Head of Sales</b>: Victoria Beckham</div>
<div class="chip" style="left:1693px;top:920.4px;width:118px"><svg style="left:7px;top:3px" width="11" height="12" viewBox="0 0 11 12"><path d="M1.3 3.3 V1.5 H9.7 V3.3 M5.5 1.5 V10.5 M3.8 10.5 H7.2" fill="none" stroke="#666" stroke-width="1.1"/></svg><b>Client Type</b>: New</div>
<div class="chip" style="left:1693px;top:948.9px;width:157px"><svg style="left:7px;top:3px" width="11" height="12" viewBox="0 0 11 12"><path d="M1.3 3.3 V1.5 H9.7 V3.3 M5.5 1.5 V10.5 M3.8 10.5 H7.2" fill="none" stroke="#666" stroke-width="1.1"/></svg><b>Payment Terms</b>: 60 days</div>
<div class="hl" style="top:1017px"></div>
<div class="hl" style="top:1019px"></div>
<div class="a" style="left:1879px;top:409px;width:17px;height:610px;background:#f1f1f1"></div>
<div class="a" style="left:1881px;top:426px;width:13px;height:96px;background:#c1c1c1"></div>
<svg class="a" style="left:1883px;top:415px" width="9" height="6" viewBox="0 0 9 6"><path d="M4.5 0.5 L8.5 5 H0.5 Z" fill="#a3a3a3"/></svg>
<svg class="a" style="left:1883px;top:1007px" width="9" height="6" viewBox="0 0 9 6"><path d="M0.5 0.5 H8.5 L4.5 5 Z" fill="#505050"/></svg>
<div class="t" style="left:1468.4px;top:1040.03px;font-size:10.6px;color:#333">Rows per page:</div>
<div class="t" style="left:1573px;top:1039.69px;font-size:11px;color:#222">25</div>
<svg class="a" style="left:1598px;top:1044px" width="10" height="5" viewBox="0 0 10 5"><path d="M0 0 L10 0 L5 5 Z" fill="#666"/></svg>
<div class="a" style="left:1573px;top:1061px;width:41px;height:1px;background:#555"></div>
<div class="t" style="left:1648.5px;top:1039.86px;font-size:10.8px;color:#333">1-25 of 357</div>
<svg class="a" style="left:1736px;top:1036px" width="20" height="20" viewBox="0 0 24 24"><path fill="#bdbdbd" d="M18.41 16.59L13.82 12l4.59-4.59L17 6l-6 6 6 6zM6 6h2v12H6z"/></svg>
<svg class="a" style="left:1770px;top:1036px" width="20" height="20" viewBox="0 0 24 24"><path fill="#bdbdbd" d="M15.41 7.41L14 6l-6 6 6 6 1.41-1.41L10.83 12z"/></svg>
<svg class="a" style="left:1814px;top:1036px" width="20" height="20" viewBox="0 0 24 24"><path fill="#555" d="M10 6L8.59 7.41 13.17 12l-4.58 4.59L10 18l6-6z"/></svg>
<svg class="a" style="left:1844.5px;top:1036px" width="20" height="20" viewBox="0 0 24 24"><path fill="#555" d="M5.59 7.41L10.18 12l-4.59 4.59L7 18l6-6-6-6zM16 6h2v12h-2z"/></svg>
</body></html>
